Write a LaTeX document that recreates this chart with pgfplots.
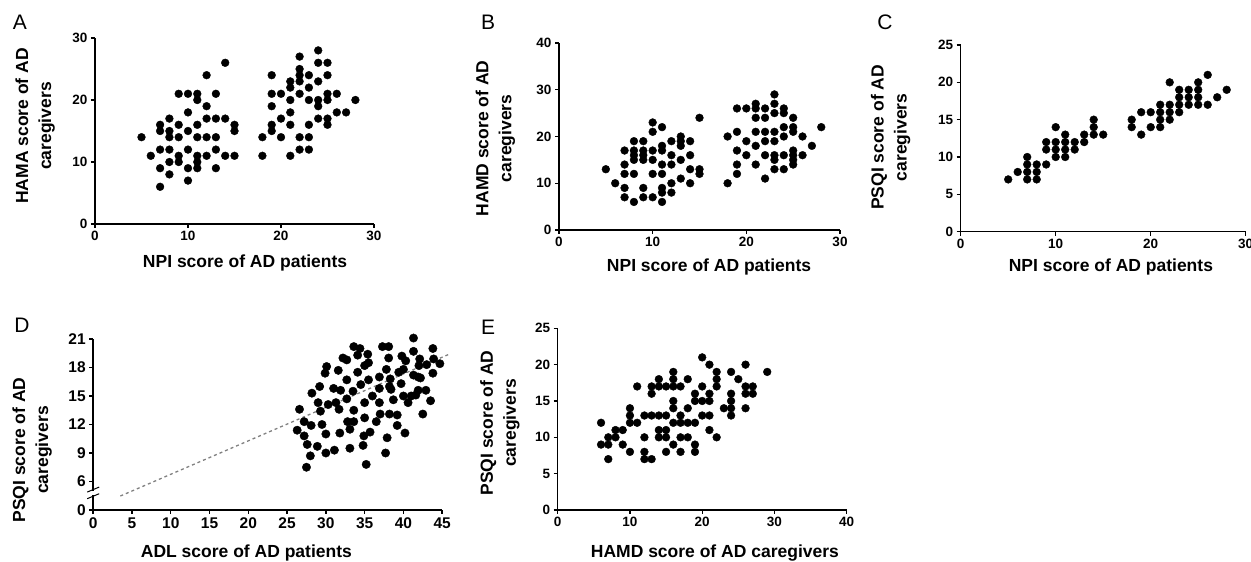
\documentclass[border=0pt]{standalone}
\usepackage{fontspec}
\setmainfont{Liberation Sans}
\usepackage{pgfplots}
\pgfplotsset{compat=1.18}

\pgfplotsset{
  panel/.style={
    scale only axis, anchor=south west, clip=false,
    axis lines*=left,
    axis line style={-, line width=1.4pt},
    tick align=outside, major tick length=4pt,
    tick style={line width=1.4pt, black},
    xtick pos=bottom, ytick pos=left,
    tick label style={font=\fontsize{13.5}{14}\selectfont\bfseries},
    label style={font=\fontsize{17.5}{18}\selectfont\bfseries, align=center},
    /pgf/number format/assume math mode=true,
  },
  dots/.style={only marks, mark=*, mark size=3.9pt, black, mark options={fill=black, draw=black}},
}

\begin{document}
\begin{tikzpicture}[x=1pt,y=1pt]
\useasboundingbox (0,0) rectangle (1251,562);

% A
\begin{axis}[panel, at={(95pt,338pt)}, width=279pt, height=186pt,
  xmin=0, xmax=30, ymin=0, ymax=30,
  xtick={0,10,20,30}, ytick={0,10,20,30},
  xlabel={NPI score of AD patients},
  ylabel={HAMA score of AD\\[5pt]caregivers},
  xlabel style={at={(axis description cs:0.538,-0.21)}, anchor=center},
  ylabel style={at={(axis description cs:-0.215,0.527)}, anchor=center}]
\addplot[dots] table {
x y
5 14
6 11
7 16
7 15
7 12
7 9
7 6
8 17
8 15
8 14
8 12
8 10
8 8
9 21
9 16
9 14
9 11
9 10
10 21
10 18
10 15
10 12
10 9
10 7
11 21
11 20
11 16
11 14
11 11
11 10
11 9
12 24
12 19
12 17
12 14
12 11
13 21
13 17
13 14
13 12
13 9
14 26
14 17
14 11
15 16
15 15
15 11
18 14
18 11
19 24
19 21
19 19
19 16
19 15
20 21
20 17
20 14
21 23
21 22
21 20
21 18
21 16
21 11
22 27
22 25
22 24
22 23
22 21
22 14
22 12
23 24
23 22
23 20
23 16
23 14
23 12
24 28
24 26
24 23
24 20
24 19
24 17
25 26
25 24
25 21
25 20
25 17
25 16
26 21
26 18
27 18
28 20
};
\end{axis}

% B
\begin{axis}[panel, at={(559pt,332pt)}, width=281pt, height=187pt,
  xmin=0, xmax=30, ymin=0, ymax=40,
  xtick={0,10,20,30}, ytick={0,10,20,30,40},
  xlabel={NPI score of AD patients},
  ylabel={HAMD score of AD\\[5pt]caregivers},
  xlabel style={at={(axis description cs:0.534,-0.198)}, anchor=center},
  ylabel style={at={(axis description cs:-0.226,0.49)}, anchor=center}]
\addplot[dots] table {
x y
5 13
6 10
7 17
7 14
7 12
7 9
7 7
8 19
8 17
8 16
8 15
8 12
8 6
9 19
9 17
9 16
9 15
9 9
9 7
10 23
10 21
10 17
10 15
10 12
10 7
11 22
11 18
11 17
11 14
11 12
11 9
11 8
11 6
12 19
12 16
12 14
12 10
12 8
13 20
13 19
13 18
13 15
13 11
14 19
14 16
14 13
14 10
15 24
15 13
15 12
18 20
18 10
19 26
19 21
19 17
19 14
19 12
20 26
20 19
20 16
21 27
21 26
21 24
21 21
21 18
21 14
22 26
22 24
22 21
22 19
22 16
22 11
23 29
23 27
23 25
23 21
23 19
23 16
23 15
23 13
24 26
24 25
24 22
24 20
24 16
24 13
25 24
25 22
25 21
25 17
25 16
25 15
25 14
26 20
26 16
27 18
28 22
};
\end{axis}

% C
\begin{axis}[panel, at={(960.7pt,330.3pt)}, width=285pt, height=186.7pt,
  xmin=0, xmax=30, ymin=0, ymax=25,
  xtick={0,10,20,30}, ytick={0,5,10,15,20,25},
  xlabel={NPI score of AD patients},
  ylabel={PSQI score of AD\\[5pt]caregivers},
  xlabel style={at={(axis description cs:0.527,-0.189)}, anchor=center},
  ylabel style={at={(axis description cs:-0.246,0.505)}, anchor=center}]
\addplot[dots] table {
x y
5 7
6 8
7 10
7 9
7 8
7 7
8 9
8 8
8 7
9 12
9 11
9 9
10 14
10 12
10 11
10 10
11 13
11 12
11 11
11 10
12 12
12 11
13 13
13 12
14 15
14 14
14 13
15 13
18 15
18 14
19 16
19 13
20 16
20 14
21 17
21 16
21 15
21 14
22 20
22 17
22 16
22 15
23 19
23 18
23 17
23 16
24 19
24 18
24 17
25 20
25 19
25 18
25 17
26 21
26 17
27 18
28 19
};
\end{axis}

% D
\begin{axis}[panel, at={(93.2pt,52pt)}, width=349pt, height=171pt,
  xmin=0, xmax=45, ymin=3, ymax=21,
  xtick={0,5,...,45}, ytick={3,6,9,12,15,18,21},
  yticklabels={0,6,9,12,15,18,21},
  tick label style={font=\fontsize{15.5}{16}\selectfont\bfseries},
  xlabel={ADL score of AD patients},
  ylabel={PSQI score of AD\\[5pt]caregivers},
  xlabel style={at={(axis description cs:0.439,-0.251)}, anchor=center},
  ylabel style={at={(axis description cs:-0.175,0.351)}, anchor=center}]
\addplot[gray, dashed, line width=1.3pt, mark=none] coordinates {(3.5,4.47) (45.9,19.4)};
\addplot[dots, mark size=4.2pt] table {
x y
26.3 11.4
26.6 13.6
27.2 12.3
27.2 10.8
27.6 9.9
28.0 8.7
27.5 7.5
28.1 11.9
28.2 15.3
28.9 9.7
29.0 14.3
29.2 16.0
29.3 13.4
29.5 12.0
29.9 17.4
30.1 18.1
30.0 11.0
30.0 9.0
30.3 14.1
31.0 15.8
31.1 9.3
31.3 14.3
31.6 17.7
31.7 13.6
31.8 11.1
31.9 15.6
32.2 19.0
32.7 18.8
32.7 16.7
32.7 14.7
32.8 12.3
33.1 11.5
33.1 9.5
33.5 15.5
33.6 13.5
33.6 12.3
33.6 20.2
34.1 17.5
34.1 19.3
34.4 20.0
34.5 16.2
34.8 9.8
35.0 12.7
35.0 14.3
35.0 18.2
35.2 7.8
35.4 19.4
35.5 18.5
35.5 16.7
34.9 10.8
35.7 11.2
36.0 15.0
36.5 12.3
36.9 17.0
36.9 14.3
36.9 15.8
37.0 13.1
37.3 20.2
38.1 20.2
37.8 17.8
37.9 10.6
37.7 9.0
38.1 19.0
38.2 16.0
38.3 16.8
38.2 13.1
38.4 15.7
38.7 14.6
39.2 13.0
39.2 11.9
39.4 17.5
39.7 16.3
39.8 19.2
40.0 17.8
40.0 15.0
40.2 11.1
40.3 18.7
40.6 14.3
41.0 15.0
41.3 21.1
41.3 19.7
41.3 17.2
41.6 15.1
41.9 17.0
42.1 18.9
42.0 18.2
42.2 16.9
42.5 13.1
42.9 15.6
43.0 18.3
43.5 14.5
43.8 20.0
43.8 17.4
43.9 18.9
44.7 18.4
41.9 15.6
};
\draw[white, line width=5pt] (axis cs:0,4.55) -- (axis cs:0,5.05);
\draw[black, line width=1pt] (axis cs:0,4.45) ++(-6pt,-2.5pt) -- ++(12pt,5pt);
\draw[black, line width=1pt] (axis cs:0,5.15) ++(-6pt,-2.5pt) -- ++(12pt,5pt);
\end{axis}

% E
\begin{axis}[panel, at={(557.7pt,52pt)}, width=289pt, height=181.7pt,
  xmin=0, xmax=40, ymin=0, ymax=25,
  xtick={0,10,20,30,40}, ytick={0,5,10,15,20,25},
  xlabel={HAMD score of AD caregivers},
  ylabel={PSQI score of AD\\[5pt]caregivers},
  xlabel style={at={(axis description cs:0.544,-0.237)}, anchor=center},
  ylabel style={at={(axis description cs:-0.2,0.479)}, anchor=center}]
\addplot[dots] table {
x y
6 12
6 9
7 9
7 10
7 7
8 10
8 11
9 11
9 9
10 14
10 13
10 12
10 8
11 17
11 12
12 13
12 10
12 8
12 7
13 17
13 16
13 13
13 7
14 18
14 17
14 13
14 11
14 10
15 17
15 13
15 11
15 10
15 8
16 19
16 18
16 17
16 15
16 14
16 12
16 9
17 17
17 13
17 12
17 10
17 8
18 18
18 14
18 12
18 10
19 16
19 15
19 12
19 9
19 8
20 21
20 17
20 15
20 13
21 20
21 16
21 15
21 13
21 11
22 19
22 18
22 17
22 10
23 14
24 19
24 16
24 15
24 14
24 13
25 18
26 20
26 17
26 16
26 14
27 17
27 16
29 19
};
\end{axis}

\node[font=\fontsize{21}{21}\selectfont] at (20pt,540pt) {A};
\node[font=\fontsize{21}{21}\selectfont] at (488pt,540pt) {B};
\node[font=\fontsize{21}{21}\selectfont] at (885pt,540pt) {C};
\node[font=\fontsize{21}{21}\selectfont] at (22pt,237pt) {D};
\node[font=\fontsize{21}{21}\selectfont] at (488pt,235pt) {E};
\end{tikzpicture}
\end{document}
